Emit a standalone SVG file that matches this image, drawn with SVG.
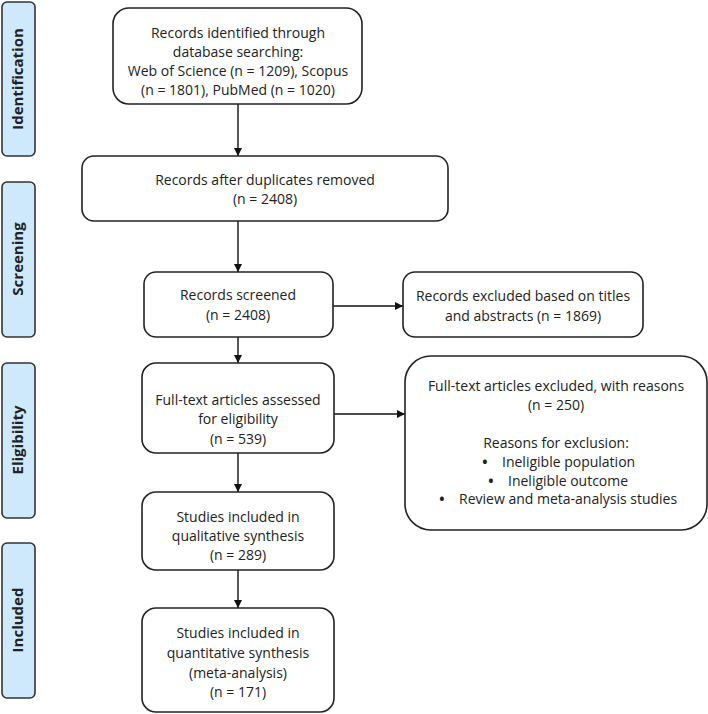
<svg xmlns="http://www.w3.org/2000/svg" width="708" height="714" viewBox="0 0 708 714">
<style>
.box{fill:#fff;stroke:#222;stroke-width:1.6}
.side{fill:#cde9fb;stroke:#333;stroke-width:1.6}
text{font-family:"Open Sans","Noto Sans",sans-serif;font-size:14px;fill:#222;text-anchor:middle}
.st{font-weight:bold;font-size:15px}
.bl{font-weight:bold}
.con{stroke:#111;stroke-width:1.4;fill:none;marker-end:url(#ah)}
</style>
<defs>
<marker id="ah" viewBox="0 0 10 10" refX="10" refY="5" markerWidth="8" markerHeight="8" markerUnits="userSpaceOnUse" orient="auto">
<path d="M0,0 L10,5 L0,10 z" fill="#111"/>
</marker>
</defs>
<g id="side-identification"><rect class="side" x="2" y="2" width="33" height="154" rx="5"/><text class="st" transform="translate(23,79) rotate(-90)">Identification</text></g>
<g id="side-screening"><rect class="side" x="2" y="182" width="33" height="155" rx="5"/><text class="st" transform="translate(23,259) rotate(-90)">Screening</text></g>
<g id="side-eligibility"><rect class="side" x="2" y="363" width="33" height="155" rx="5"/><text class="st" transform="translate(23,440) rotate(-90)">Eligibility</text></g>
<g id="side-included"><rect class="side" x="2" y="543" width="33" height="155" rx="5"/><text class="st" transform="translate(23,620) rotate(-90)">Included</text></g>

<g id="connectors">
<line class="con" x1="238" y1="104" x2="238" y2="156"/>
<line class="con" x1="238" y1="221" x2="238" y2="272"/>
<line class="con" x1="238" y1="337" x2="238" y2="363"/>
<line class="con" x1="238" y1="453" x2="238" y2="492"/>
<line class="con" x1="238" y1="570" x2="238" y2="608"/>
<line class="con" x1="333" y1="306" x2="403" y2="306"/>
<line class="con" x1="334" y1="414" x2="405" y2="414"/>
</g>

<g id="n1"><rect class="box" x="113" y="8" width="249" height="96" rx="16"/>
<text x="238" y="38">Records identified through</text>
<text x="238" y="57">database searching:</text>
<text x="238" y="76">Web of Science (n = 1209), Scopus</text>
<text x="238" y="95">(n = 1801), PubMed (n = 1020)</text></g>
<g id="n2"><rect class="box" x="82" y="156" width="366" height="65" rx="12"/>
<text x="265" y="185">Records after duplicates removed</text>
<text x="265" y="204">(n = 2408)</text></g>
<g id="n3"><rect class="box" x="144" y="272" width="189" height="65" rx="12"/>
<text x="238" y="300">Records screened</text>
<text x="238" y="320">(n = 2408)</text></g>
<g id="n4"><rect class="box" x="403" y="272" width="240" height="65" rx="12"/>
<text x="523" y="301">Records excluded based on titles</text>
<text x="523" y="321">and abstracts (n = 1869)</text></g>
<g id="n5"><rect class="box" x="142" y="363" width="192" height="90" rx="14"/>
<text x="238" y="405">Full-text articles assessed</text>
<text x="238" y="424">for eligibility</text>
<text x="238" y="444">(n = 539)</text></g>
<g id="n6"><rect class="box" x="405" y="356" width="302" height="174" rx="26"/>
<text x="556" y="391">Full-text articles excluded, with reasons</text>
<text x="556" y="410">(n = 250)</text>
<text x="556" y="448">Reasons for exclusion:</text>
<text class="bl" x="485" y="467">•</text><text x="502" y="467" style="text-anchor:start">Ineligible population</text>
<text class="bl" x="491" y="486">•</text><text x="508" y="486" style="text-anchor:start">Ineligible outcome</text>
<text class="bl" x="442" y="504">•</text><text x="459" y="504" style="text-anchor:start">Review and meta-analysis studies</text></g>
<g id="n7"><rect class="box" x="142" y="492" width="192" height="78" rx="14"/>
<text x="238" y="522">Studies included in</text>
<text x="238" y="541">qualitative synthesis</text>
<text x="238" y="560">(n = 289)</text></g>
<g id="n8"><rect class="box" x="142" y="608" width="192" height="104" rx="14"/>
<text x="238" y="638">Studies included in</text>
<text x="238" y="658">quantitative synthesis</text>
<text x="238" y="678">(meta-analysis)</text>
<text x="238" y="697">(n = 171)</text></g>
</svg>
